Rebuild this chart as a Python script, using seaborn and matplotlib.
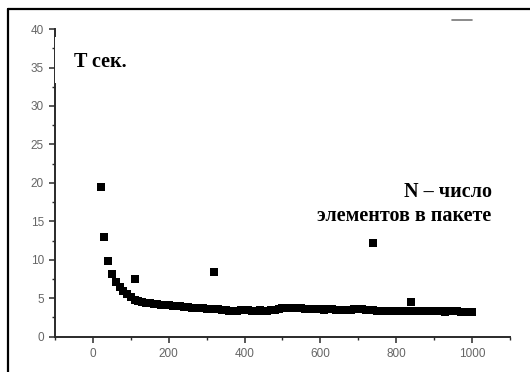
import matplotlib
matplotlib.use('Agg')
import matplotlib.pyplot as plt
from matplotlib.lines import Line2D
from matplotlib.patches import Rectangle
from matplotlib.ticker import MultipleLocator
import seaborn as sns
import pandas as pd

# N values (packet size) for the main series, step 10
n_values = list(range(20, 1010, 10))
t_values = [
    19.4, 13.0, 9.9, 8.2, 7.1, 6.4, 5.9, 5.5, 5.1, 4.8,
    4.6, 4.5, 4.4, 4.35, 4.3, 4.2, 4.15, 4.1, 4.1, 4.05,
    4.0, 3.95, 3.9, 3.85, 3.75, 3.7, 3.7, 3.7, 3.65, 3.6,
    3.6, 3.55, 3.5, 3.45, 3.4, 3.4, 3.4, 3.45, 3.45, 3.45,
    3.4, 3.4, 3.45, 3.4, 3.4, 3.45, 3.5, 3.55, 3.7, 3.75,
    3.75, 3.7, 3.75, 3.7, 3.65, 3.6, 3.6, 3.55, 3.55, 3.5,
    3.55, 3.6, 3.5, 3.5, 3.45, 3.5, 3.5, 3.55, 3.6, 3.55,
    3.5, 3.5, 3.45, 3.4, 3.4, 3.4, 3.35, 3.35, 3.35, 3.3,
    3.3, 3.3, 3.35, 3.35, 3.35, 3.35, 3.35, 3.4, 3.4, 3.35,
    3.3, 3.25, 3.3, 3.3, 3.3, 3.25, 3.25, 3.25, 3.25,
]

# isolated outlier points
outlier_n = [110, 320, 740, 840]
outlier_t = [7.5, 8.4, 12.2, 4.5]

y_ticks = [0, 5, 10, 15, 20, 25, 30, 35, 40]
x_ticks = [0, 200, 400, 600, 800, 1000]

df = pd.DataFrame({'N': n_values + outlier_n, 'T': t_values + outlier_t})

sns.set_style('white')
plt.rcParams['font.family'] = ['Liberation Sans', 'DejaVu Sans']
serif = ['Liberation Serif', 'DejaVu Serif']

fig = plt.figure(figsize=(5.30, 3.72), dpi=100)
fig.patch.set_facecolor('white')
ax = fig.add_axes([0.104, 0.0949, 0.858, 0.827])

sns.scatterplot(data=df, x='N', y='T', marker='s', s=28, color='black',
                linewidth=0, ax=ax, zorder=3)

ax.set_xlim(-100, 1100)
ax.set_ylim(0, 40)
ax.set_xticks(x_ticks)
ax.set_yticks(y_ticks)
ax.xaxis.set_minor_locator(MultipleLocator(100))
ax.yaxis.set_minor_locator(MultipleLocator(2.5))
ax.set_xlabel('')
ax.set_ylabel('')

for side in ['top', 'right']:
    ax.spines[side].set_visible(False)
for side in ['left', 'bottom']:
    ax.spines[side].set_color('#2a2a2a')
    ax.spines[side].set_linewidth(1.4)

ax.tick_params(which='major', direction='out', length=4, width=1.1,
               color='#2a2a2a', labelsize=8.5, labelcolor='#666666', pad=4)
ax.tick_params(which='minor', direction='out', length=2.5, width=1.0,
               color='#2a2a2a')
ax.tick_params(axis='x', which='both', bottom=True)
ax.tick_params(axis='y', which='both', left=True)

# white boxes behind the labels (they cover part of the y spine)
fig.add_artist(Rectangle((55 / 530, 1 - 83 / 372), 97 / 530, 46 / 372,
                         transform=fig.transFigure, facecolor='white',
                         edgecolor='none', zorder=5))
fig.add_artist(Rectangle((203 / 530, 1 - 228 / 372), 307 / 530, 73 / 372,
                         transform=fig.transFigure, facecolor='white',
                         edgecolor='none', zorder=1))

fig.text(74 / 530, 1 - 62 / 372, 'T сек.', fontsize=14.5, fontweight='bold',
         family=serif, color='black', ha='left', va='center', zorder=6)
fig.text(492 / 530, 1 - 192 / 372, 'N – число', fontsize=14.5,
         fontweight='bold', family=serif, color='black', ha='right',
         va='center', zorder=6)
fig.text(491 / 530, 1 - 216 / 372, 'элементов в пакете', fontsize=14.5,
         fontweight='bold', family=serif, color='black', ha='right',
         va='center', zorder=6)

# frame lines (left and top) and the small grey dash
fig.add_artist(Line2D([8 / 530, 8 / 530], [0, 1 - 9 / 372], color='black',
                      lw=1.6, transform=fig.transFigure))
fig.add_artist(Line2D([8 / 530, 1], [1 - 9 / 372, 1 - 9 / 372], color='black',
                      lw=1.6, transform=fig.transFigure))
fig.add_artist(Line2D([452 / 530, 472 / 530], [1 - 20 / 372, 1 - 20 / 372],
                      color='#777777', lw=1.2, transform=fig.transFigure))

fig.savefig('out.png', dpi=100)
